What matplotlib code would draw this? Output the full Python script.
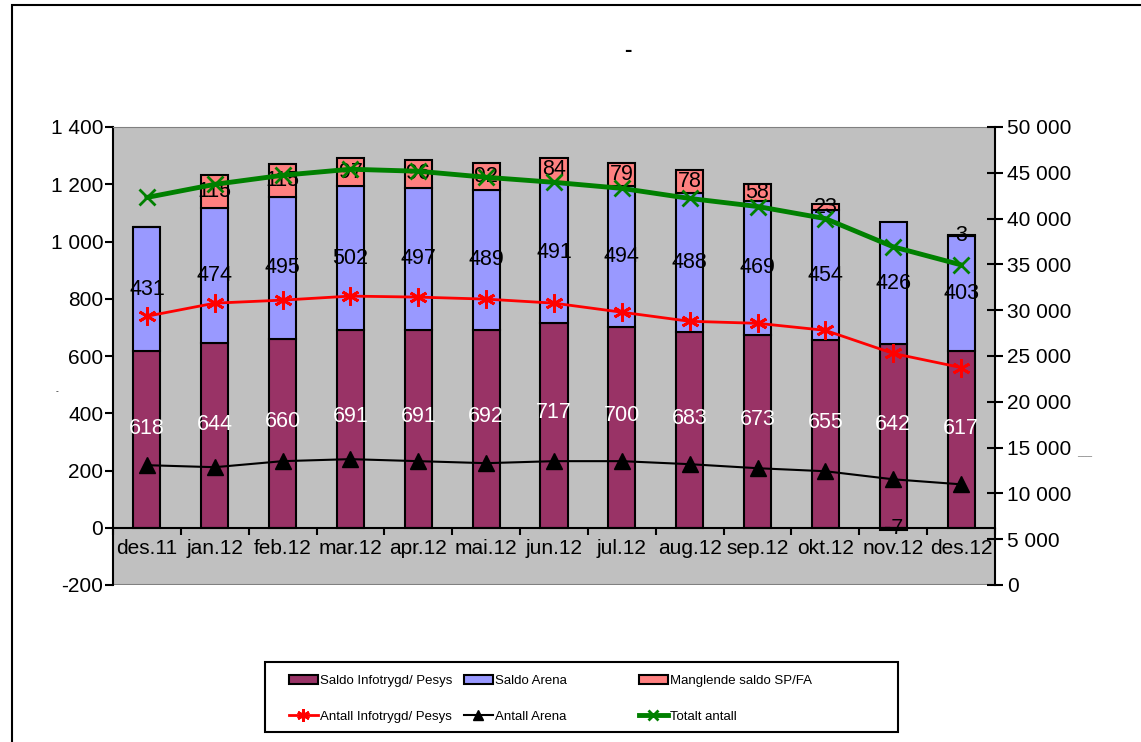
import numpy as np
import matplotlib
matplotlib.use("Agg")
import matplotlib.pyplot as plt
from matplotlib.patches import Rectangle
from matplotlib.ticker import FuncFormatter, FixedLocator

plt.rcParams['font.family'] = ['Liberation Sans', 'DejaVu Sans']

# data
months = ['des.11', 'jan.12', 'feb.12', 'mar.12', 'apr.12', 'mai.12', 'jun.12',
          'jul.12', 'aug.12', 'sep.12', 'okt.12', 'nov.12', 'des.12']
saldo_infotrygd = [618, 644, 660, 691, 691, 692, 717, 700, 683, 673, 655, 642, 617]
saldo_arena = [431, 474, 495, 502, 497, 489, 491, 494, 488, 469, 454, 426, 403]
manglende = [0, 115, 115, 97, 96, 92, 84, 79, 78, 58, 23, -7, 3]
antall_infotrygd = [29340, 30770, 31100, 31540, 31430, 31210, 30770, 29780, 28790,
                    28570, 27800, 25280, 23740]
antall_arena = [13080, 12860, 13520, 13740, 13520, 13300, 13520, 13520, 13190,
                12750, 12420, 11540, 10990]
totalt_antall = [42310, 43740, 44730, 45390, 45170, 44510, 43960, 43300, 42200,
                 41320, 40000, 36920, 34950]

c_info = '#993366'
c_arena = '#9999FF'
c_mang = '#FF8080'

fig = plt.figure(figsize=(11.41, 7.42), dpi=100)
fig.patch.set_facecolor('white')

# outer chart border
fig.patches.append(Rectangle((12 / 1141, -0.05), 1.2, 1.05 - 5 / 742, transform=fig.transFigure,
                             fill=False, edgecolor='black', lw=1.5))

ax = fig.add_axes([113 / 1141, 157 / 742, 882 / 1141, 458 / 742])
ax.set_facecolor('#C0C0C0')
x = np.arange(len(months))
w = 0.4

info = np.array(saldo_infotrygd)
arena = np.array(saldo_arena)
mang = np.array(manglende)

ax.bar(x, info, w, color=c_info, edgecolor='black', lw=1.5, zorder=2)
ax.bar(x, arena, w, bottom=info, color=c_arena, edgecolor='black', lw=1.5, zorder=2)
mbottom = np.where(mang < 0, 0, info + arena)
ax.bar(x, mang, w, bottom=mbottom, color=c_mang, edgecolor='black', lw=1.5, zorder=2)

for i in range(len(months)):
    ax.text(x[i], info[i] * 0.56, str(info[i]), color='white', fontsize=15.5,
            ha='center', va='center', zorder=5)
    ax.text(x[i], info[i] + arena[i] / 2, str(arena[i]), color='black', fontsize=15.5,
            ha='center', va='center', zorder=5)
    if mang[i] != 0:
        ax.text(x[i], mbottom[i] + mang[i] / 2, str(mang[i]), color='black', fontsize=15.5,
                ha='center', va='center', zorder=5)

ax.set_xlim(-0.5, len(months) - 0.5)
ax.set_ylim(-200, 1400)
ax.set_yticks(np.arange(-200, 1401, 200))
ax.yaxis.set_major_formatter(FuncFormatter(lambda v, p: f'{int(v):,}'.replace(',', ' ')))
ax.tick_params(axis='y', labelsize=15, length=6, width=1.5, direction='out', pad=1)

ax.spines['bottom'].set_position(('data', 0))
ax.spines['bottom'].set_linewidth(1.5)
ax.spines['left'].set_linewidth(1.5)
ax.spines['top'].set_color('#808080')
ax.spines['right'].set_visible(False)
ax.set_xticks(x)
ax.set_xticklabels(months)
ax.xaxis.set_minor_locator(FixedLocator(np.arange(-0.5, len(months), 1.0)))
ax.tick_params(axis='x', which='major', length=0, labelsize=15, pad=8)
ax.tick_params(axis='x', which='minor', length=5, width=1.5, direction='out')
ax.axhline(-200, color='#808080', lw=1.5, zorder=1)

ax2 = ax.twinx()
ax2.set_ylim(0, 50000)
ax2.set_yticks(np.arange(0, 50001, 5000))
ax2.yaxis.set_major_formatter(FuncFormatter(lambda v, p: f'{int(v):,}'.replace(',', ' ')))
ax2.tick_params(axis='y', labelsize=15, length=11, width=1.5, direction='inout', pad=3)
ax2.spines['right'].set_linewidth(1.5)
for s in ['left', 'top', 'bottom']:
    ax2.spines[s].set_visible(False)

l1, = ax2.plot(x, antall_infotrygd, color='red', lw=2, marker=(6, 2, 0), ms=13, mew=2, zorder=3)
l2, = ax2.plot(x, antall_arena, color='black', lw=1.5, marker='^', ms=11, zorder=3)
l3, = ax2.plot(x, totalt_antall, color='#008000', lw=3.5, marker='x', ms=11, mew=2, zorder=3)

fig.text(628 / 1141, 1 - 50 / 742, '-', fontsize=16, fontweight='bold', ha='center', va='center')
fig.text(57 / 1141, 1 - 392 / 742, '-', fontsize=6, ha='center', va='center')
fig.text(1085 / 1141, 1 - 455 / 742, '_____', fontsize=4, ha='center', va='center')

# legend box
fig.patches.append(Rectangle((265 / 1141, 10 / 742), 633 / 1141, 70 / 742,
                             transform=fig.transFigure, fill=False, edgecolor='black', lw=1.5))


def bar_handle(c):
    return Rectangle((0, 0), 1, 1, facecolor=c, edgecolor='black', lw=1.5)


cols = [
    ([bar_handle(c_info), l1], ['Saldo Infotrygd/ Pesys', 'Antall Infotrygd/ Pesys'], 276),
    ([bar_handle(c_arena), l2], ['Saldo Arena', 'Antall Arena'], 451),
    ([bar_handle(c_mang), l3], ['Manglende saldo SP/FA', 'Totalt antall'], 626),
]
for handles, labels, xpos in cols:
    fig.legend(handles, labels, loc='upper left',
               bbox_to_anchor=(xpos / 1141, 1 - 662 / 742),
               frameon=False, fontsize=9.5, handlelength=2.2, handletextpad=0.2,
               labelspacing=1.8, borderaxespad=0, borderpad=0.95, markerscale=0.7)

fig.savefig('out.png', dpi=100)
